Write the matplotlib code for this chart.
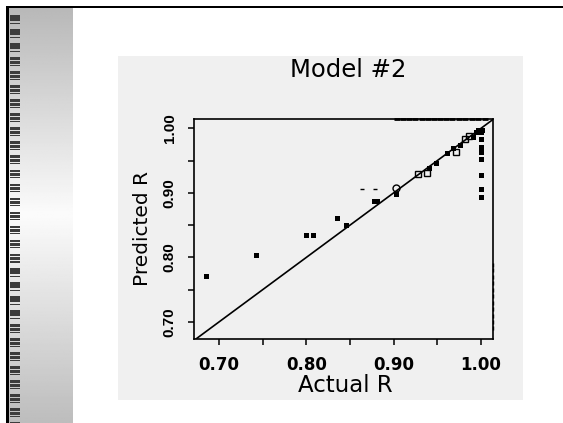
import numpy as np
import matplotlib
matplotlib.use("Agg")
import matplotlib.pyplot as plt
from matplotlib.patches import Rectangle

W, H = 563, 423

# ---- data ----
actual_filled = [0.685, 0.742, 0.800, 0.808, 0.835, 0.845, 0.877, 0.881, 0.903,
                 0.941, 0.949, 0.961, 0.968, 0.976, 0.991, 0.994, 0.997, 1.001,
                 1.000, 1.000, 1.000, 1.000, 1.000, 1.000, 1.000, 1.000]
pred_filled = [0.772, 0.804, 0.835, 0.835, 0.861, 0.850, 0.888, 0.887, 0.898,
               0.938, 0.946, 0.961, 0.969, 0.974, 0.987, 0.995, 0.997, 0.998,
               0.995, 0.983, 0.971, 0.964, 0.952, 0.928, 0.906, 0.894]
actual_open = [0.928, 0.938, 0.971, 0.982, 0.986]
pred_open = [0.929, 0.931, 0.963, 0.983, 0.988]
actual_circ = [0.903]
pred_circ = [0.908]
actual_dash = [0.864, 0.879]
pred_dash = [0.906, 0.906]
rug_top = [0.904, 0.911, 0.918, 0.925, 0.932, 0.939, 0.946, 0.953,
           0.960, 0.967, 0.975, 0.982, 0.990, 0.997, 1.004]
rug_right = [0.690, 0.700, 0.710, 0.720, 0.730, 0.740, 0.750, 0.760,
             0.770, 0.780, 0.788]
major_ticks = [0.70, 0.80, 0.90, 1.00]
minor_ticks = [0.75, 0.85, 0.95]
tick_labels = ["0.70", "0.80", "0.90", "1.00"]
xlim = (0.6715, 1.0137)
ylim = (0.6737, 1.0144)


def fx(x):
    return x / W


def fy(y):
    return 1 - y / H


fig = plt.figure(figsize=(W / 100, H / 100), dpi=100)
fig.patch.set_facecolor("white")

# grey gradient strip on the left
strip = fig.add_axes([fx(8), 0, fx(73) - fx(8), fy(7)], zorder=-10)
t = np.linspace(0, 1, 300)
grad = np.interp(t, [0, 0.5, 1], [0.72, 0.985, 0.74])
strip.imshow(np.tile(grad[:, None], (1, 2)), cmap="gray", vmin=0, vmax=1,
             aspect="auto", extent=(0, 1, 0, 1))
strip.axis("off")

# dashes on the strip
for k in range(30):
    y0 = 15 + 14.05 * k
    for off, h in [(0, 2.6), (3.4, 3.0), (7.6, 1.1)]:
        fig.add_artist(Rectangle((fx(10), fy(y0 + off + h)), fx(10), h / H,
                                 transform=fig.transFigure, color="#3c3c3c",
                                 lw=0, zorder=-5))

# black frame lines
fig.add_artist(Rectangle((fx(6), fy(8)), 1 - fx(6), 2.4 / H,
                         transform=fig.transFigure, color="black", lw=0,
                         zorder=-5))
fig.add_artist(Rectangle((fx(6), 0), 2.6 / W, fy(6),
                         transform=fig.transFigure, color="black", lw=0,
                         zorder=-5))

# light grey panel
fig.add_artist(Rectangle((fx(118), fy(400)), fx(523) - fx(118), (400 - 56) / H,
                         transform=fig.transFigure, color="#f0f0f0", lw=0,
                         zorder=-5))

ax = fig.add_axes([fx(194), fy(339), fx(493) - fx(194), (339 - 119) / H],
                  zorder=5)
ax.set_facecolor("#f0f0f0")

ax.plot([0.6, 1.1], [0.6, 1.1], color="black", lw=1.2)
ax.plot(actual_filled, pred_filled, "s", color="black", ms=3.6, mew=0)
ax.plot(actual_open, pred_open, "s", mfc="none", mec="black", ms=4.2, mew=1.0)
ax.plot(actual_circ, pred_circ, "o", mfc="none", mec="black", ms=5, mew=1.0)
ax.plot(actual_dash, pred_dash, "_", color="black", ms=3, mew=1)
ax.plot(rug_top, [ylim[1]] * len(rug_top), "_", color="black", ms=5, mew=2,
        clip_on=False)
ax.plot([xlim[1]] * len(rug_right), rug_right, "|", color="black", ms=3,
        mew=1, clip_on=False)

ax.set_xlim(xlim)
ax.set_ylim(ylim)
ax.set_xticks(major_ticks)
ax.set_xticks(minor_ticks, minor=True)
ax.set_yticks(major_ticks)
ax.set_yticks(minor_ticks, minor=True)
ax.set_xticklabels(tick_labels, fontfamily="DejaVu Sans", fontweight="bold",
                   fontsize=12)
ax.set_yticklabels(tick_labels, fontfamily="Liberation Sans", fontweight="bold",
                   fontsize=11, rotation=90, va="center")
ax.tick_params(which="both", direction="out", length=4.5, width=1.1,
               color="black")
ax.tick_params(axis="x", pad=8)
ax.tick_params(axis="y", pad=8)
for s in ax.spines.values():
    s.set_linewidth(1.2)
    s.set_color("black")

fig.text(fx(348), fy(77), "Model #2", ha="center", va="baseline",
         fontfamily="DejaVu Sans", fontsize=17.5)
fig.text(fx(345), fy(392), "Actual R", ha="center", va="baseline",
         fontfamily="DejaVu Sans", fontsize=16.5)
fig.text(fx(142), fy(229), "Predicted R", ha="center", va="center",
         rotation=90, fontfamily="DejaVu Sans", fontsize=14.5)

fig.savefig("out.png", dpi=100)
